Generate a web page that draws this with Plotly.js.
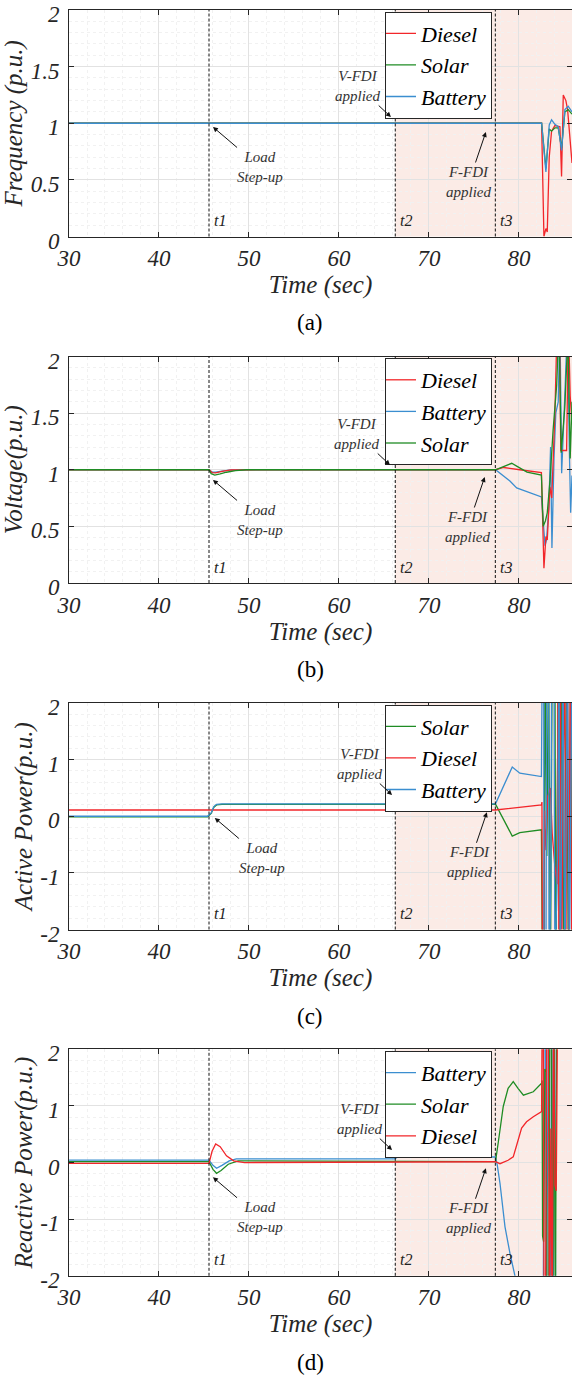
<!DOCTYPE html>
<html>
<head>
<meta charset="utf-8">
<script src="https://cdn.plot.ly/plotly-3.0.1.min.js"></script>
<style>
html,body{margin:0;padding:0;background:#fff;}
#chart{width:572px;height:1377px;}
</style>
</head>
<body>
<div id="chart"></div>
<script>
// ---------------- DATA ----------------
const eventTimes = [45.56, 66.26, 77.38];
const eventLabels = ['t1', 't2', 't3'];
const xTickVals = [30, 40, 50, 60, 70, 80];
const xTickText = ['30', '40', '50', '60', '70', '80'];
const yTickValsAB = [0, 0.5, 1, 1.5, 2];
const yTickTextAB = ['0', '0.5', '1', '1.5', '2'];
const yTickValsCD = [-2, -1, 0, 1, 2];
const yTickTextCD = ['-2', '-1', '0', '1', '2'];
const captions = ['(a)', '(b)', '(c)', '(d)'];
const yTitles = ['Frequency (p.u.)', 'Voltage(p.u.)', 'Active Power(p.u.)', 'Reactive Power(p.u.)'];

// (a) Frequency
const freqDieselT = [30, 82.52, 82.78, 83.0, 83.15, 83.37, 83.63, 84.0, 84.56, 84.74, 84.93, 85.22, 85.41, 85.9];
const freqDiesel  = [1, 1, 0, 0.07, 0.04, 0.70, 0.93, 0.98, 0.97, 0.53, 1.25, 1.2, 1.12, 0.65];
const freqSolarT  = [30, 82.52, 83.0, 83.37, 83.63, 84.0, 84.37, 84.74, 85.11, 85.48, 85.9];
const freqSolar   = [1, 1, 0.6, 0.95, 0.93, 0.96, 0.96, 0.78, 1.10, 1.12, 1.08];
const freqBatteryT = [30, 82.52, 83.0, 83.37, 83.63, 84.0, 84.37, 84.74, 85.11, 85.48, 85.9];
const freqBattery  = [1, 1, 0.57, 0.985, 1.03, 0.99, 0.97, 0.76, 1.12, 1.15, 1.10];

// (b) Voltage
const voltDieselT = [30, 45.56, 45.9, 46.3, 47.0, 48.0, 77.4, 78.3, 80.1, 82.5, 82.78, 83.0, 83.15, 83.45, 83.65, 84.0, 84.25, 84.5, 84.65, 85.3, 85.5, 85.7, 85.9];
const voltDiesel  = [1, 1, 0.975, 0.972, 0.985, 0.998, 1, 1.02, 1.0, 0.975, 0.13, 0.41, 0.38, 0.85, 0.75, 1.5, 2.3, 2.3, 1.17, 1.17, 2.3, 1.65, 1.4];
const voltBatteryT = [30, 45.56, 45.9, 46.3, 47.0, 48.0, 77.4, 78.3, 79.0, 79.75, 80.85, 82.5, 82.9, 83.07, 83.33, 83.52, 83.67, 83.9, 84.1, 84.37, 84.56, 84.75, 85.1, 85.4, 85.6, 85.75, 85.9];
const voltBattery  = [1, 1, 0.98, 0.978, 0.988, 0.998, 1, 0.94, 0.9, 0.84, 0.81, 0.76, 0.33, 0.38, 0.67, 1.2, 0.31, 1.1, 1.5, 1.6, 2.3, 0.97, 1.65, 2.3, 1.2, 0.62, 0.95];
const voltSolarT = [30, 45.56, 45.8, 46.2, 46.8, 47.5, 48.5, 49.7, 77.4, 78.3, 79.2, 79.8, 80.9, 82.5, 82.7, 82.95, 83.15, 83.45, 83.8, 84.2, 84.45, 84.7, 85.1, 85.45, 85.7, 85.9];
const voltSolar  = [1, 1, 0.965, 0.953, 0.963, 0.978, 0.992, 1.0, 1.0, 1.03, 1.057, 1.03, 0.98, 0.953, 0.5, 0.55, 0.62, 0.9, 1.35, 1.75, 2.3, 1.15, 1.55, 2.2, 1.1, 1.6];

// (c) Active power
const powSolarT = [30, 45.4, 45.8, 46.1, 46.4, 47.0, 77.4, 79.26, 80.1, 82.5, 82.62, 82.8, 82.9, 83.1, 83.3, 83.5, 83.7, 84.0, 84.1, 84.4, 84.55, 84.8, 85.0, 85.3, 85.5, 85.75, 85.9];
const powSolar  = [-0.01, -0.01, 0.05, 0.16, 0.2, 0.21, 0.215, -0.35, -0.29, -0.24, -3, -3, 3, -0.7, 3, -3, 3, 3, -3, 3, -3, 3, -3, 3, -3, 3, -3];
const powDieselT = [30, 77.4, 82.5, 82.56, 82.62, 82.75, 82.85, 83.0, 83.2, 83.5, 83.7, 84.0, 84.25, 84.35, 84.45, 84.6, 84.75, 84.9, 85.1, 85.2, 85.4, 85.55, 85.7, 85.9];
const powDiesel  = [0.11, 0.11, 0.2, 0.25, -3, -3, 0.1, -0.6, 0.35, 0.5, -0.3, -0.9, -1.2, 3, -3, 3, -3, 0.4, 3, -3, 3, -3, 2.5, -3];
const powBatteryT = [30, 45.4, 45.8, 46.1, 46.4, 47.0, 77.4, 79.26, 80.1, 82.5, 82.6, 82.75, 82.8, 83.0, 83.1, 83.3, 83.35, 83.55, 83.65, 83.9, 84.0, 84.3, 84.45, 84.6, 84.9, 85.1, 85.4, 85.6, 85.9];
const powBattery  = [0.0, 0.0, 0.06, 0.17, 0.21, 0.22, 0.22, 0.87, 0.76, 0.70, 3, 3, -3, -3, 3, 3, -3, -1.2, 3, 3, -3, -0.6, 3, -3, 3, -3, 3, -3, 3];

// (d) Reactive power
const reacBatteryT = [30, 45.56, 46.0, 46.4, 47.0, 47.8, 48.6, 66.2, 66.5, 77.4, 77.6, 77.9, 78.45, 79.0, 79.56, 80.5, 82.5, 82.7, 82.8, 82.95, 83.05, 83.2, 83.3, 83.5, 83.65, 83.8, 83.95, 84.1, 84.3];
const reacBattery  = [0.044, 0.044, -0.05, -0.10, -0.05, 0.03, 0.065, 0.065, 0.095, 0.1, -0.05, -0.37, -1.13, -1.6, -2.0, -2.6, -3.0, -3.2, 3, 3, -3, 0.3, 3, -3, 3, -3, 3, -3, -6];
const reacSolarT = [30, 45.56, 46.0, 46.4, 46.9, 47.7, 48.8, 66.26, 77.4, 77.7, 78.26, 78.8, 79.37, 79.9, 80.5, 81.6, 82.52, 82.58, 82.63, 82.75, 82.88, 83.05, 83.12, 83.3, 83.45, 83.6, 83.75, 83.9, 84.05, 84.2, 84.35];
const reacSolar  = [0.015, 0.015, -0.12, -0.19, -0.14, -0.03, 0.03, 0.02, 0.015, 0.35, 0.99, 1.31, 1.43, 1.31, 1.19, 1.25, 1.40, 1.45, -1.3, -1.4, 1.65, 1.6, -3, -3, 3, 3, -3, 3, -3, 3, 5];
const reacDieselT = [30, 45.56, 45.9, 46.3, 46.8, 47.5, 48.3, 49.5, 77.4, 77.9, 78.8, 79.37, 79.7, 80.3, 80.85, 81.6, 82.52, 82.6, 82.7, 82.8, 82.95, 83.1, 83.25, 83.4, 83.55, 83.7, 83.85, 84.0, 84.15, 84.3, 84.45];
const reacDiesel  = [-0.015, -0.015, 0.2, 0.33, 0.28, 0.12, 0.03, 0.0, 0.014, -0.02, 0.04, 0.1, 0.28, 0.61, 0.72, 0.81, 0.9, 3, 3, -3, -3, 3, 3, -3, 0.6, -3, 3, -0.4, -0.5, 3, 6];

// ---------------- STYLE / LAYOUT ----------------
const RED = '#f2262a', GREEN = '#1f8c24', BLUE = '#3b8ed0';
const FONT = '"Liberation Serif", serif';
const INK = '#262626';
const W = 572, H = 1377, LM = 69;
const xRange = [30, 85.9];
const panelTop = [10, 356.5, 703, 1049.3];
const plotH = 226.5;
const captionY = [323, 669.5, 1016, 1362];

const panels = [
  {yr: [0, 2], tv: yTickValsAB, tt: yTickTextAB, minor: 0.1, series: [
    {name: 'Diesel', x: freqDieselT, y: freqDiesel, c: RED, rank: 1},
    {name: 'Solar', x: freqSolarT, y: freqSolar, c: GREEN, rank: 2},
    {name: 'Battery', x: freqBatteryT, y: freqBattery, c: BLUE, rank: 3}],
   heads: [[46.0, 0.967], [65.78, 1.055], [76.33, 0.923]]},
  {yr: [0, 2], tv: yTickValsAB, tt: yTickTextAB, minor: 0.1, series: [
    {name: 'Battery', x: voltBatteryT, y: voltBattery, c: BLUE, rank: 2},
    {name: 'Diesel', x: voltDieselT, y: voltDiesel, c: RED, rank: 1},
    {name: 'Solar', x: voltSolarT, y: voltSolar, c: GREEN, rank: 3}],
   heads: [[46.0, 0.91], [65.67, 1.042], [76.2, 0.936]]},
  {yr: [-2, 2], tv: yTickValsCD, tt: yTickTextCD, minor: 0.2, series: [
    {name: 'Solar', x: powSolarT, y: powSolar, c: GREEN, rank: 1},
    {name: 'Diesel', x: powDieselT, y: powDiesel, c: RED, rank: 2},
    {name: 'Battery', x: powBatteryT, y: powBattery, c: BLUE, rank: 3}],
   heads: [[46.2, -0.03], [65.9, 0.375], [76.44, 0.07]]},
  {yr: [-2, 2], tv: yTickValsCD, tt: yTickTextCD, minor: 0.2, series: [
    {name: 'Battery', x: reacBatteryT, y: reacBattery, c: BLUE, rank: 1},
    {name: 'Solar', x: reacSolarT, y: reacSolar, c: GREEN, rank: 2},
    {name: 'Diesel', x: reacDieselT, y: reacDiesel, c: RED, rank: 3}],
   heads: [[46.0, -0.26], [65.9, 0.22], [76.33, -0.10]]}
];

const annTexts = ['Load<br>Step-up', 'V-FDI<br>applied', 'F-FDI<br>applied'];
const annOffsets = [[47, 40], [-33, -31], [-17, 50]];

const traces = [];
const layout = {
  width: W, height: H,
  margin: {l: LM, r: 0, t: 0, b: 0, pad: 0},
  paper_bgcolor: '#ffffff', plot_bgcolor: '#ffffff',
  showlegend: true, shapes: [], annotations: [],
  font: {family: FONT, color: INK}
};

panels.forEach((p, i) => {
  const s = i === 0 ? '' : String(i + 1);
  const xa = 'x' + s, ya = 'y' + s, lg = 'legend' + s;
  const top = panelTop[i], bot = top + plotH;
  layout['xaxis' + s] = {
    domain: [0, 1], range: xRange, anchor: ya,
    tickmode: 'array', tickvals: xTickVals, ticktext: xTickText,
    tickfont: {family: FONT, size: 23, style: 'italic', color: INK},
    ticks: 'inside', ticklen: 5, tickcolor: INK, tickwidth: 1,
    showline: true, linecolor: INK, linewidth: 1, mirror: 'ticks',
    showgrid: true, gridcolor: '#e2e2e2', gridwidth: 1, zeroline: false,
    minor: {tickmode: 'linear', tick0: 30, dtick: 2, showgrid: true, gridcolor: '#f1f1f1', griddash: 'dot', ticks: ''},
    ticklabelstandoff: 1, ticklabeloverflow: 'allow',
    title: {text: 'Time (sec)', font: {family: FONT, size: 25, style: 'italic', color: INK}, standoff: 1},
    fixedrange: true
  };
  layout['yaxis' + s] = {
    domain: [1 - bot / H, 1 - top / H], range: p.yr, anchor: xa,
    tickmode: 'array', tickvals: p.tv, ticktext: p.tt,
    tickfont: {family: FONT, size: 23, style: 'italic', color: INK},
    ticks: 'inside', ticklen: 5, tickcolor: INK, tickwidth: 1,
    showline: true, linecolor: INK, linewidth: 1, mirror: 'ticks',
    showgrid: true, gridcolor: '#e2e2e2', gridwidth: 1, zeroline: false,
    minor: {tickmode: 'linear', tick0: p.yr[0], dtick: p.minor, showgrid: true, gridcolor: '#f1f1f1', griddash: 'dot', ticks: ''},
    ticklabelstandoff: 4, ticklabelshift: 4, ticklabeloverflow: 'allow',
    title: {text: yTitles[i], font: {family: FONT, size: 25, style: 'italic', color: INK}, standoff: 0},
    fixedrange: true
  };
  layout[lg] = {
    x: (492 - LM) / (W - LM), xanchor: 'right',
    y: 1 - (top + 1.5) / H, yanchor: 'top',
    bgcolor: '#ffffff', bordercolor: INK, borderwidth: 1,
    font: {family: FONT, size: 22, style: 'italic', color: '#000'},
    itemwidth: 30, indentation: -5, tracegroupgap: 0, traceorder: 'normal'
  };
  p.series.forEach(se => {
    traces.push({
      type: 'scatter', mode: 'lines', name: se.name, x: se.x, y: se.y,
      xaxis: xa, yaxis: ya, legend: lg, legendrank: se.rank,
      line: {color: se.c, width: 1.3}, hoverinfo: 'skip'
    });
  });
  layout.shapes.push({type: 'rect', xref: xa, yref: ya + ' domain', x0: eventTimes[1], x1: xRange[1], y0: 0, y1: 1,
    fillcolor: '#fbebe6', line: {width: 0}, layer: 'below'});
  eventTimes.forEach((t, k) => {
    layout.shapes.push({type: 'line', xref: xa, yref: ya + ' domain', x0: t, x1: t, y0: 0, y1: 1,
      line: {color: '#111111', width: 1, dash: '3px,2px'}, layer: 'above'});
    layout.annotations.push({xref: xa, yref: ya + ' domain', x: t, y: 0.07, xshift: 3, xanchor: 'left', yanchor: 'middle',
      text: eventLabels[k], showarrow: false, font: {family: FONT, size: 16, style: 'italic', color: '#222'}});
  });
  p.heads.forEach((h, k) => {
    layout.annotations.push({xref: xa, yref: ya, x: h[0], y: h[1], ax: annOffsets[k][0], ay: annOffsets[k][1],
      text: annTexts[k], showarrow: true, arrowhead: 2, arrowsize: 1, arrowwidth: 1, arrowcolor: '#111',
      standoff: 0, startstandoff: 0, align: 'center',
      font: {family: FONT, size: 15, style: 'italic', color: '#333'}});
  });
  layout.annotations.push({xref: 'paper', yref: 'paper', x: (310 - LM) / (W - LM), y: 1 - captionY[i] / H,
    xanchor: 'center', yanchor: 'middle', text: captions[i], showarrow: false,
    font: {family: FONT, size: 23, color: '#000'}});
});

Plotly.newPlot('chart', traces, layout, {staticPlot: true, displayModeBar: false});
</script>
</body>
</html>
